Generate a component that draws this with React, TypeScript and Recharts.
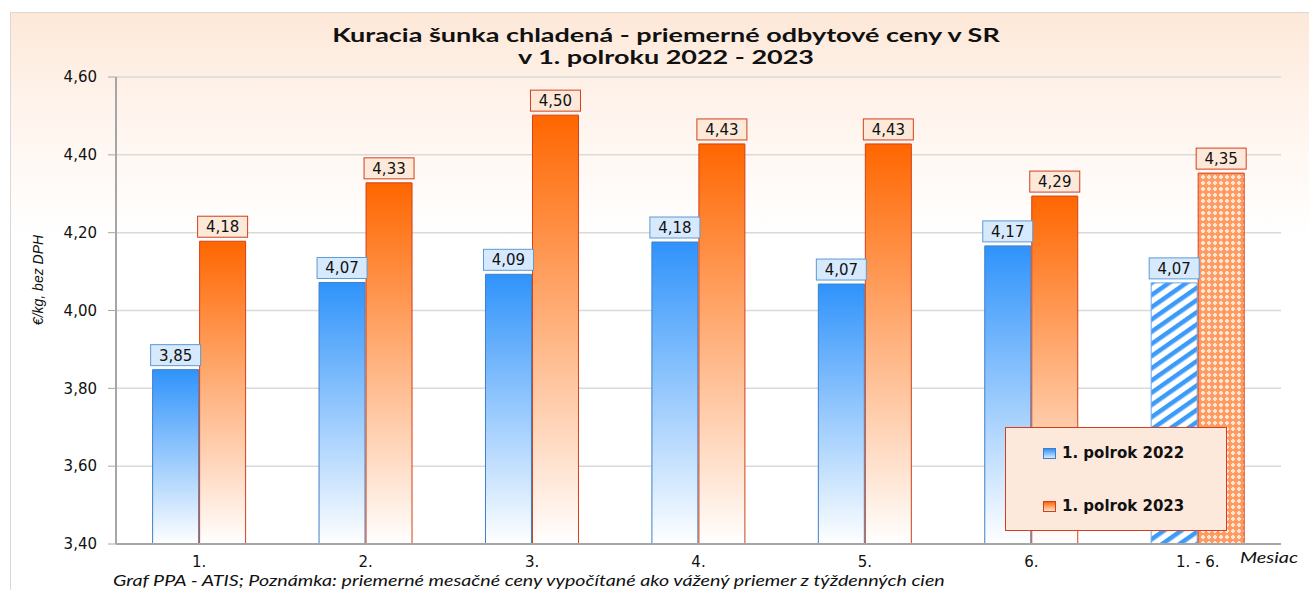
import { Bar, BarChart, CartesianGrid, Cell, LabelList, XAxis, YAxis } from "recharts";

const months = ["1.", "2.", "3.", "4.", "5.", "6.", "1. - 6."];
const prices2022 = [3.848, 4.072, 4.093, 4.176, 4.068, 4.166, 4.071];
const prices2023 = [4.178, 4.328, 4.502, 4.428, 4.428, 4.294, 4.353];
const yTicks = [3.4, 3.6, 3.8, 4.0, 4.2, 4.4, 4.6];

const data = months.map((m, i) => ({ month: m, y2022: prices2022[i], y2023: prices2023[i] }));

const fmt = (v: number) => v.toFixed(2).replace(".", ",");
const tickFont = "'DejaVu Sans', Verdana, sans-serif";
const calibri = "Lato, 'Open Sans', sans-serif";

function boxLabel(fill: string, stroke: string) {
  return (props: any) => {
    const { x, y, width, value } = props;
    const cx = x + width / 2;
    const w = 50;
    const h = 21;
    return (
      <g>
        <rect x={cx - w / 2} y={y - h - 4} width={w} height={h} fill={fill} stroke={stroke} strokeWidth={1} />
        <text x={cx} y={y - 9} textAnchor="middle" fontSize={15} fontFamily={tickFont} fill="#111">
          {fmt(value)}
        </text>
      </g>
    );
  };
}

export default function App() {
  const last = months.length - 1;
  return (
    <div
      style={{
        position: "absolute",
        left: 0,
        top: 0,
        width: 1309,
        height: 590,
        background: "#fff",
        overflow: "hidden",
      }}
    >
      {/* chart area with peach fade */}
      <div
        style={{
          position: "absolute",
          left: 10,
          top: 12,
          width: 1310,
          height: 590,
          border: "1px solid #d9d9d9",
          background: "linear-gradient(to bottom, #fde8d8 0%, #fff3eb 15%, #ffffff 38%)",
        }}
      />
      <div
        style={{
          position: "absolute",
          left: 0,
          top: 24,
          width: 1332,
          textAlign: "center",
          fontFamily: calibri,
          fontWeight: 700,
          fontSize: 19,
          lineHeight: "22px",
          color: "#111",
          transform: "scaleX(1.42)",
          transformOrigin: "666px 0",
        }}
      >
        Kuracia šunka chladená - priemerné odbytové ceny v SR
        <br />v 1. polroku 2022 - 2023
      </div>
      <div
        style={{
          position: "absolute",
          left: 38,
          top: 280,
          transform: "translate(-50%, -50%) rotate(-90deg)",
          fontFamily: "'Liberation Sans Narrow', 'Liberation Sans', sans-serif",
          fontStyle: "italic",
          fontSize: 14,
          whiteSpace: "nowrap",
          color: "#111",
        }}
      >
        €/kg, bez DPH
      </div>
      <div
        style={{
          position: "absolute",
          left: 1240,
          top: 547,
          fontFamily: calibri,
          fontStyle: "italic",
          fontSize: 16,
          color: "#111",
          transform: "scaleX(1.24)",
          transformOrigin: "0 0",
        }}
      >
        Mesiac
      </div>
      <div
        style={{
          position: "absolute",
          left: 113,
          top: 571,
          fontFamily: calibri,
          fontStyle: "italic",
          fontSize: 15,
          color: "#111",
          whiteSpace: "nowrap",
          transform: "scaleX(1.31)",
          transformOrigin: "0 0",
        }}
      >
        Graf PPA - ATIS; Poznámka: priemerné mesačné ceny vypočítané ako vážený priemer z týždenných cien
      </div>
      <div style={{ position: "absolute", left: 0, top: 0 }}>
        <BarChart
          width={1309}
          height={590}
          data={data}
          margin={{ top: 77, right: 28, bottom: 16, left: 56 }}
          barCategoryGap="22%"
          barGap={1}
        >
          <defs>
            <linearGradient id="gBlue" x1="0" y1="0" x2="0" y2="1">
              <stop offset="0%" stopColor="#2f93fb" />
              <stop offset="100%" stopColor="#ffffff" />
            </linearGradient>
            <linearGradient id="gOrange" x1="0" y1="0" x2="0" y2="1">
              <stop offset="0%" stopColor="#ff6600" />
              <stop offset="100%" stopColor="#ffffff" />
            </linearGradient>
            <pattern id="pBlue" width="10" height="10" patternUnits="userSpaceOnUse" patternTransform="rotate(-35)">
              <rect width="10" height="10" fill="#ffffff" />
              <rect width="10" height="4.5" fill="#3c9af8" />
            </pattern>
            <pattern id="pOrange" width="6" height="6" patternUnits="userSpaceOnUse">
              <rect width="6" height="6" fill="#ff9a60" />
              <rect x="2" y="1" width="2" height="4" fill="#ffe6d6" />
              <rect x="1" y="2" width="4" height="2" fill="#ffe6d6" />
            </pattern>
          </defs>
          <CartesianGrid vertical={false} stroke="#d9d9d9" strokeWidth={1.5} />
          <XAxis
            dataKey="month"
            axisLine={{ stroke: "#a6a6a6", strokeWidth: 2 }}
            tickLine={false}
            tick={{ fill: "#111", fontSize: 15, fontFamily: tickFont }}
            tickMargin={6}
          />
          <YAxis
            domain={[3.4, 4.6]}
            ticks={yTicks}
            allowDataOverflow
            axisLine={{ stroke: "#a6a6a6", strokeWidth: 2 }}
            tickLine={{ stroke: "#a6a6a6" }}
            tickSize={8}
            tickMargin={11}
            tickFormatter={fmt}
            tick={{ fill: "#111", fontSize: 15, fontFamily: tickFont }}
          />
          <Bar dataKey="y2022" isAnimationActive={false} stroke="#3f7fc7" strokeWidth={1}>
            {data.map((_, i) => (
              <Cell key={i} fill={i === last ? "url(#pBlue)" : "url(#gBlue)"} stroke={i === last ? "#6aa8e8" : "#3f7fc7"} />
            ))}
            <LabelList dataKey="y2022" content={boxLabel("#d7e9fc", "#5b9bd5")} />
          </Bar>
          <Bar dataKey="y2023" isAnimationActive={false} stroke="#d1401a" strokeWidth={1}>
            {data.map((_, i) => (
              <Cell key={i} fill={i === last ? "url(#pOrange)" : "url(#gOrange)"} stroke="#d1401a" />
            ))}
            <LabelList dataKey="y2023" content={boxLabel("#fde9d9", "#d1401a")} />
          </Bar>
        </BarChart>
      </div>
      {/* legend */}
      <div
        style={{
          position: "absolute",
          left: 1005,
          top: 427,
          width: 222,
          height: 104,
          boxSizing: "border-box",
          background: "#fde9dc",
          border: "1px solid #d1401a",
          fontFamily: tickFont,
          fontWeight: 700,
          fontSize: 15,
          color: "#111",
        }}
      >
        <div style={{ position: "absolute", left: 37, top: 16, display: "flex", alignItems: "center" }}>
          <span
            style={{
              display: "inline-block",
              width: 11,
              height: 9,
              marginRight: 6,
              border: "1px solid #3f7fc7",
              background: "linear-gradient(#2f93fb, #d8ebff)",
            }}
          />
          1. polrok 2022
        </div>
        <div style={{ position: "absolute", left: 37, top: 69, display: "flex", alignItems: "center" }}>
          <span
            style={{
              display: "inline-block",
              width: 11,
              height: 9,
              marginRight: 6,
              border: "1px solid #d1401a",
              background: "linear-gradient(#ff6600, #ffe3d0)",
            }}
          />
          1. polrok 2023
        </div>
      </div>
    </div>
  );
}
